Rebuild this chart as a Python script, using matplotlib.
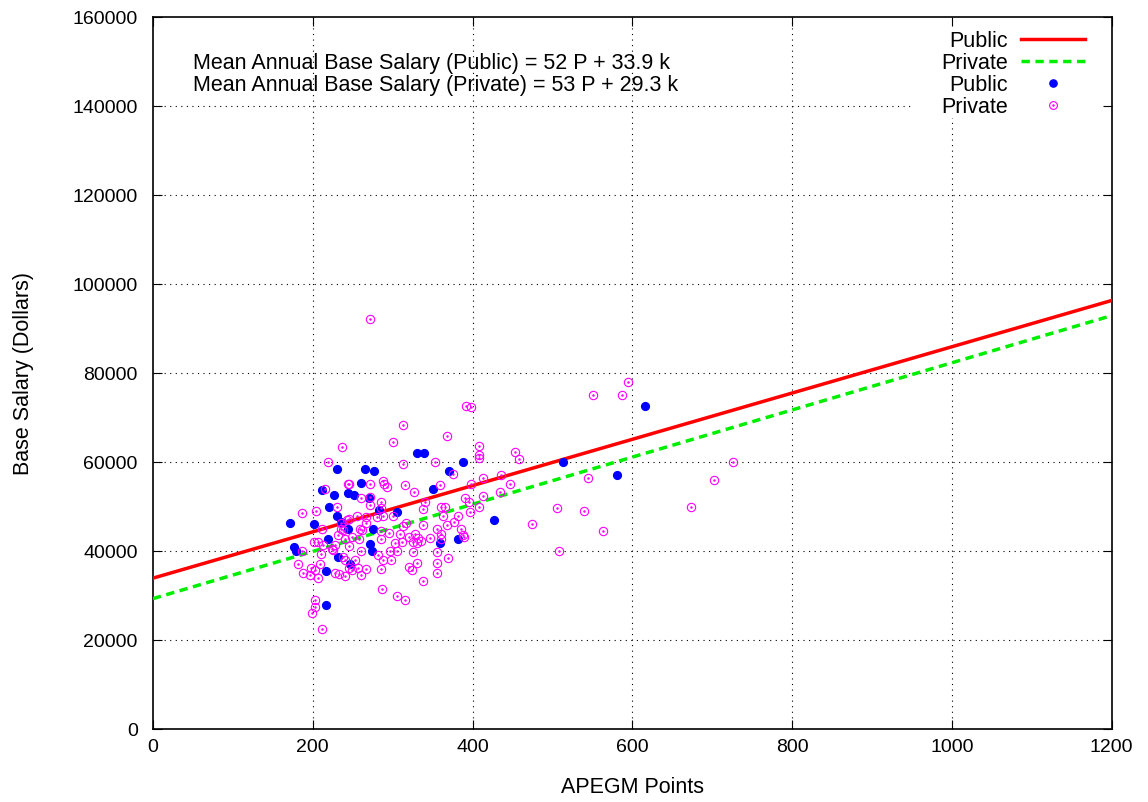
import numpy as np
import matplotlib
matplotlib.use("Agg")
import matplotlib.pyplot as plt
from matplotlib.patches import Rectangle

plt.rcParams['font.family'] = ['Liberation Sans', 'DejaVu Sans']

# APEGM points vs base salary, public employers
pub_x = [172, 202, 212, 176, 179, 220, 217, 217, 230, 227, 244, 231, 236, 219, 232,
         265, 277, 260, 252, 270, 283, 305, 244, 276, 272, 274, 247, 330, 339, 351,
         371, 388, 359, 382, 427, 513, 581, 616]
pub_y = [46300, 46000, 53600, 41000, 40100, 50000, 35400, 27900, 58400, 52600, 53000,
         47900, 46600, 42600, 38600, 58400, 58000, 55200, 52600, 52000, 49200, 48700,
         44900, 44900, 41600, 39900, 37000, 62000, 62000, 53900, 58000, 60100, 41700,
         42700, 47000, 60000, 57000, 72600]

# private employers
priv_x = [187, 204, 212, 202, 206, 213, 186, 210, 182, 209, 198, 203, 188, 197, 206,
          203, 203, 199, 212, 219, 216, 237, 244, 231, 243, 232, 238, 240, 228, 226,
          238, 228, 233,
          392, 398, 313, 368, 300, 408, 408, 408, 353, 313, 375, 288, 289, 293, 316,
          272, 245, 359, 413, 327, 398, 260, 272, 286, 391, 413, 272, 285, 340, 338,
          360, 366, 396, 408, 256, 245, 267, 280, 288, 301, 317, 313, 338, 382, 368,
          397, 236, 235, 259, 262, 285, 295, 309, 320, 332, 347, 355, 361, 386, 389,
          249, 258, 286, 303, 312, 325, 330, 335, 361, 388, 224, 245, 261, 282, 297,
          305, 325, 355, 240, 253, 288, 298, 369, 321, 331, 355, 245, 249, 257, 267,
          285, 324, 355, 240, 260, 338, 287, 305, 316, 363, 377, 267, 328, 272,
          594, 551, 587, 453, 458, 436, 447, 435, 544, 506, 539, 475, 563, 508, 673,
          702, 726]
priv_y = [48500, 49000, 44900, 42100, 42100, 41400, 40000, 39300, 37000, 37100, 36200,
          35800, 35000, 34600, 34000, 29000, 27500, 26000, 22400, 60100, 54000, 63400,
          55100, 50000, 47000, 43600, 44700, 42800, 41300, 40200, 38700, 35000, 34800,
          72600, 72300, 68300, 65900, 64400, 63600, 61600, 61000, 60100, 59600, 57400,
          55800, 55100, 54300, 54800, 55000, 55000, 54800, 56500, 53200, 55000, 52000,
          52200, 51100, 52000, 52400, 50300, 49600, 51100, 49400, 49900, 49900, 51100,
          49900, 47900, 47100, 47600, 47600, 47900, 47900, 46200, 45600, 45800, 47900,
          45800, 48800, 46200, 45000, 45000, 44700, 44600, 44100, 43900, 43200, 43000,
          43000, 45000, 43900, 45000, 43200, 43200, 42700, 42800, 41900, 42100, 42100,
          41700, 42200, 42600, 43700, 40400, 41200, 40100, 39100, 40000, 40000, 39800,
          39800, 38000, 38000, 38000, 38000, 38500, 36500, 37200, 37400, 36100, 35700,
          36100, 35900, 35900, 35700, 35000, 34400, 34600, 33300, 31500, 30000, 29000,
          47900, 46600, 46300, 43900, 92100,
          77900, 75000, 75000, 62300, 60700, 57000, 55100, 53300, 56500, 49700, 48900,
          46000, 44500, 40000, 50000, 56000, 60000]

# linear fits: salary = slope * P + intercept
pub_slope, pub_int = 52, 33900
priv_slope, priv_int = 53, 29300

xticks = [0, 200, 400, 600, 800, 1000, 1200]
yticks = [0, 20000, 40000, 60000, 80000, 100000, 120000, 140000, 160000]

fig = plt.figure(figsize=(11.48, 8.02), dpi=100)
ax = fig.add_axes([0.1332, 0.0910, 0.8352, 0.8878])

ax.set_xlim(0, 1200)
ax.set_ylim(0, 160000)

# dotted grid
for xv in xticks[1:-1]:
    ax.axvline(xv, color='black', lw=0.8, dashes=(1, 4), zorder=0.6)
for yv in yticks[1:-1]:
    ax.axhline(yv, color='black', lw=0.8, dashes=(1, 4), zorder=0.6)

# fit lines
xf = np.array([0, 1200])
ax.plot(xf, pub_slope * xf + pub_int, color='#ff0000', lw=2.5, zorder=3)
ax.plot(xf, priv_slope * xf + priv_int, color='#00ee00', lw=2.5, dashes=(2.4, 1.6), zorder=3)

# scatter
ax.plot(pub_x, pub_y, 'o', color='#0000ff', ms=5.6, mec='#0000ff', zorder=4)
ax.plot(priv_x, priv_y, 'o', mfc='none', mec='#ff00ff', mew=0.8, ms=6.0, zorder=4)
ax.plot(priv_x, priv_y, 'o', color='#ff00ff', ms=0.8, zorder=4)

ax.set_xticks(xticks)
ax.set_yticks(yticks)
ax.tick_params(direction='in', length=6.5, width=0.8, top=True, right=True,
               labelsize=14, colors='black')
ax.tick_params(axis='y', pad=11)
ax.tick_params(axis='x', pad=7)
for s in ax.spines.values():
    s.set_linewidth(1.2)

ax.set_xlabel("APEGM Points", fontsize=15.5)
ax.set_ylabel("Base Salary (Dollars)", fontsize=15.5)
ax.xaxis.set_label_coords(0.5, -0.067)
ax.yaxis.set_label_coords(-0.124, 0.5)

# fit equations
ax.text(0.0418, 0.927, "Mean Annual Base Salary (Public) = 52 P + 33.9 k",
        transform=ax.transAxes, fontsize=15.5, va='baseline', ha='left')
ax.text(0.0418, 0.896, "Mean Annual Base Salary (Private) = 53 P + 29.3 k",
        transform=ax.transAxes, fontsize=15.5, va='baseline', ha='left')

# gnuplot style key
ax.add_patch(Rectangle((0.791, 0.858), 0.209, 0.142, transform=ax.transAxes,
                       facecolor='white', edgecolor='none', zorder=0.8))
tx = 0.892
rows = [0.969, 0.938, 0.907, 0.876]
labels = ["Public", "Private", "Public", "Private"]
for r, lab in zip(rows, labels):
    ax.text(tx, r - 0.0105, lab, transform=ax.transAxes, fontsize=15.5,
            ha='right', va='baseline', zorder=5)
ax.plot([0.905, 0.972], [rows[0]] * 2, transform=ax.transAxes, color='#ff0000', lw=2.5, zorder=5)
ax.plot([0.905, 0.972], [rows[1]] * 2, transform=ax.transAxes, color='#00ee00', lw=2.5,
        dashes=(2.4, 1.6), zorder=5)
ax.plot([0.939], [rows[2]], 'o', transform=ax.transAxes, color='#0000ff', ms=5.2, zorder=5)
ax.plot([0.939], [rows[3]], 'o', transform=ax.transAxes, mfc='none', mec='#ff00ff',
        mew=0.8, ms=5.6, zorder=5)
ax.plot([0.939], [rows[3]], 'o', transform=ax.transAxes, color='#ff00ff', ms=0.8, zorder=5)

fig.savefig("out.png", dpi=100)
